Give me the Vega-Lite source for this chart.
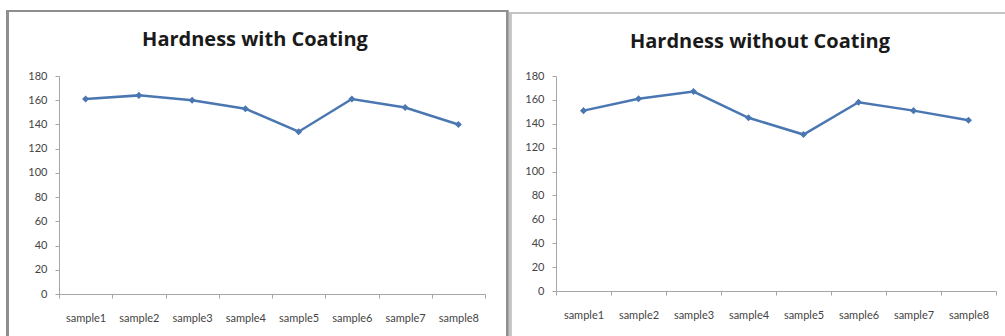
{
  "$schema": "https://vega.github.io/schema/vega-lite/v6.json",
  "background": "white",
  "padding": {"left": 6, "top": 9, "right": 0, "bottom": 0},
  "spacing": 0,
  "datasets": {
    "with": [
      {"sample": "sample1", "hardness": 161},
      {"sample": "sample2", "hardness": 164},
      {"sample": "sample3", "hardness": 160},
      {"sample": "sample4", "hardness": 153},
      {"sample": "sample5", "hardness": 134},
      {"sample": "sample6", "hardness": 161},
      {"sample": "sample7", "hardness": 154},
      {"sample": "sample8", "hardness": 140}
    ],
    "without": [
      {"sample": "sample1", "hardness": 151},
      {"sample": "sample2", "hardness": 161},
      {"sample": "sample3", "hardness": 167},
      {"sample": "sample4", "hardness": 145},
      {"sample": "sample5", "hardness": 131},
      {"sample": "sample6", "hardness": 158},
      {"sample": "sample7", "hardness": 151},
      {"sample": "sample8", "hardness": 143}
    ]
  },
  "config": {
    "view": {"stroke": null},
    "font": "Lato",
    "title": {"fontSize": 20, "fontWeight": "bold", "font": "Open Sans", "color": "#1a1a1a", "anchor": "middle", "offset": -40},
    "axis": {
      "labelFont": "Lato",
      "labelFontSize": 11,
      "labelColor": "#444444",
      "domainColor": "#a6a6a6",
      "tickColor": "#a6a6a6",
      "tickSize": 4,
      "grid": false,
      "title": null,
      "labelOverlap": false
    }
  },
  "hconcat": [
    {
      "width": 426,
      "height": 218,
      "title": {"text": "Hardness with Coating", "dx": -17},
      "data": {"name": "with"},
      "resolve": {"scale": {"x": "independent"}, "axis": {"x": "independent"}},
      "layer": [
        {
          "mark": {"type": "rect", "fill": null, "stroke": "#8f8f8f", "strokeWidth": 2},
          "encoding": {
            "x": {"datum": -0.121, "type": "quantitative", "scale": {"domain": [0, 1]}, "axis": null},
            "x2": {"datum": 1.052},
            "y": {"datum": -39, "type": "quantitative", "scale": {"domain": [0, 180], "nice": false},
                  "axis": {"values": [0, 20, 40, 60, 80, 100, 120, 140, 160, 180], "labelPadding": 8}},
            "y2": {"datum": 233.7}
          }
        },
        {
          "mark": {"type": "line", "color": "#4a77b2", "strokeWidth": 2.5, "point": {"shape": "diamond", "size": 50, "color": "#4a77b2", "filled": true}},
          "encoding": {
            "x": {"field": "sample", "type": "nominal", "sort": null, "scale": {"paddingInner": 0, "paddingOuter": 0},
                  "axis": {"labelAngle": 0, "tickBand": "extent", "labelPadding": 14, "tickSize": 4}},
            "y": {"field": "hardness", "type": "quantitative", "scale": {"domain": [0, 180], "nice": false},
                  "axis": {"values": [0, 20, 40, 60, 80, 100, 120, 140, 160, 180], "labelPadding": 8}}
          }
        }
      ]
    },
    {
      "width": 440,
      "height": 215,
      "title": {"text": "Hardness without Coating", "dx": -16},
      "data": {"name": "without"},
      "resolve": {"scale": {"x": "independent"}, "axis": {"x": "independent"}},
      "layer": [
        {
          "mark": {"type": "rect", "fill": null, "stroke": "#c4c4c4", "strokeWidth": 2},
          "encoding": {
            "x": {"datum": -0.104, "type": "quantitative", "scale": {"domain": [0, 1]}, "axis": null},
            "x2": {"datum": 1.03},
            "y": {"datum": -42, "type": "quantitative", "scale": {"domain": [0, 180], "nice": false},
                  "axis": {"values": [0, 20, 40, 60, 80, 100, 120, 140, 160, 180], "labelPadding": 8}},
            "y2": {"datum": 232.7}
          }
        },
        {
          "mark": {"type": "line", "color": "#4a77b2", "strokeWidth": 2.5, "point": {"shape": "diamond", "size": 50, "color": "#4a77b2", "filled": true}},
          "encoding": {
            "x": {"field": "sample", "type": "nominal", "sort": null, "scale": {"paddingInner": 0, "paddingOuter": 0},
                  "axis": {"labelAngle": 0, "tickBand": "extent", "labelPadding": 14, "tickSize": 4}},
            "y": {"field": "hardness", "type": "quantitative", "scale": {"domain": [0, 180], "nice": false},
                  "axis": {"values": [0, 20, 40, 60, 80, 100, 120, 140, 160, 180], "labelPadding": 8}}
          }
        }
      ]
    }
  ]
}
